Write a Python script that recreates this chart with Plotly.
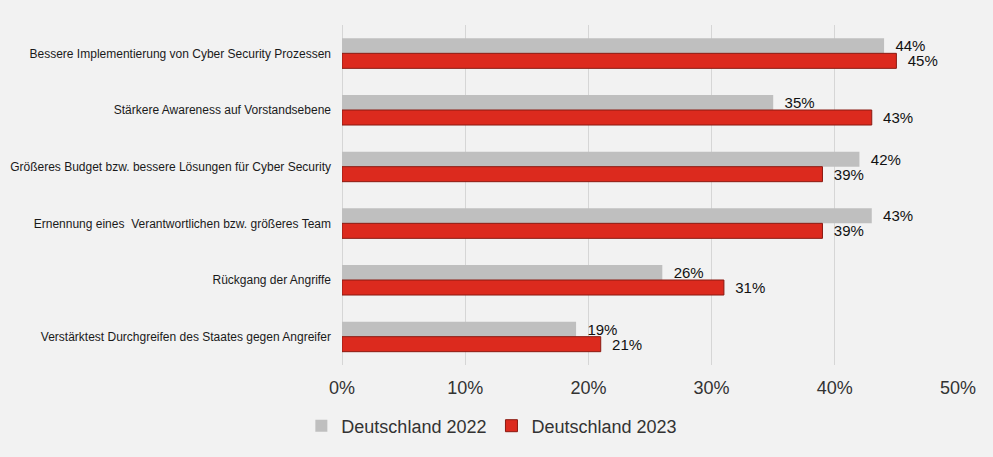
import plotly.graph_objects as go

# categories top to bottom
categories = [
    "Bessere Implementierung von Cyber Security Prozessen",
    "Stärkere Awareness auf Vorstandsebene",
    "Größeres Budget bzw. bessere Lösungen für Cyber Security",
    "Ernennung eines  Verantwortlichen bzw. größeres Team",
    "Rückgang der Angriffe",
    "Verstärktest Durchgreifen des Staates gegen Angreifer",
]
values_2022 = [44, 35, 42, 43, 26, 19]
values_2023 = [45, 43, 39, 39, 31, 21]
series_names = ["Deutschland 2022", "Deutschland 2023"]

pad = "\u00a0\u00a0"

fig = go.Figure()
fig.add_trace(go.Bar(
    y=categories, x=values_2022, name=series_names[0], orientation="h",
    marker=dict(color="#bfbfbf", line=dict(color="#bfbfbf", width=0)),
    text=[f"{pad}{v}%" for v in values_2022], textposition="outside",
    textfont=dict(size=15, color="#111111"),
))
fig.add_trace(go.Bar(
    y=categories, x=values_2023, name=series_names[1], orientation="h",
    marker=dict(color="#dc2a1e", line=dict(color="#8a1a12", width=1)),
    text=[f"{pad}{v}%" for v in values_2023], textposition="outside",
    textfont=dict(size=15, color="#111111"),
))

fig.update_traces(cliponaxis=False, constraintext="none")

fig.update_layout(
    width=993, height=457,
    margin=dict(l=342, r=35, t=25, b=89),
    paper_bgcolor="#f2f2f2", plot_bgcolor="#f2f2f2",
    font=dict(family="Liberation Sans, Arial, sans-serif", color="#1a1a1a"),
    barmode="group", bargap=0.47, bargroupgap=0,
    showlegend=True,
    legend=dict(orientation="h", x=-0.066, xanchor="left", y=-0.125, yanchor="top",
                font=dict(size=18, color="#333333"), itemwidth=30,
                bgcolor="rgba(0,0,0,0)"),
    xaxis=dict(range=[0, 50], dtick=10, ticksuffix="%", showgrid=True,
               gridcolor="#d6d6d6", gridwidth=1, zeroline=True,
               zerolinecolor="#d6d6d6", zerolinewidth=1,
               tickfont=dict(size=18, color="#333333"), ticklabelstandoff=10,
               fixedrange=True, automargin=False),
    yaxis=dict(autorange="reversed", tickfont=dict(size=12, color="#1a1a1a"),
               ticklabelstandoff=10, showgrid=False, fixedrange=True,
               automargin=False),
)

fig.write_html("out.html", config={"displayModeBar": False},
               post_script="document.body.style.margin='0';document.body.style.background='#f2f2f2';")
